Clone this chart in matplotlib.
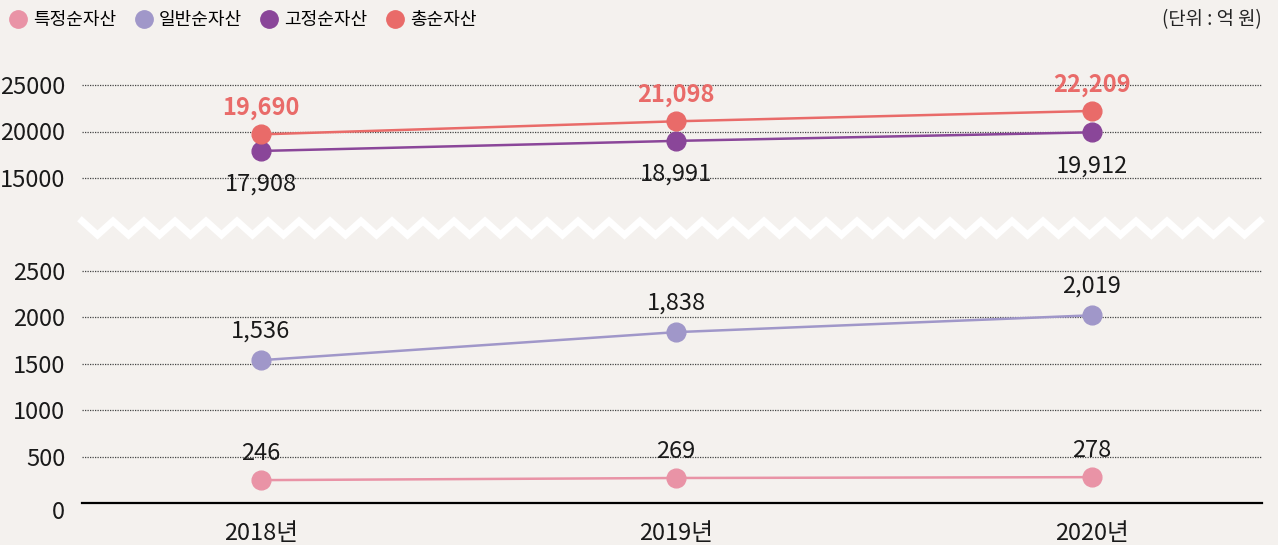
import matplotlib
matplotlib.use('Agg')
import matplotlib.pyplot as plt
import matplotlib.transforms as mtransforms
from matplotlib.lines import Line2D

plt.rcParams['font.family'] = ['Liberation Sans Narrow', 'Noto Sans CJK KR', 'DejaVu Sans']

BG = '#f4f1ee'
C_SPEC = '#e993a6'
C_GEN = '#a097c9'
C_FIX = '#8a4699'
C_TOT = '#e96b69'

years = ['2018년', '2019년', '2020년']
specific = [246, 269, 278]        # 특정순자산
general = [1536, 1838, 2019]      # 일반순자산
fixed = [17908, 18991, 19912]     # 고정순자산
total = [19690, 21098, 22209]     # 총순자산
names = ['특정순자산', '일반순자산', '고정순자산', '총순자산']

W, H = 1278, 545
fig = plt.figure(figsize=(W / 100, H / 100), dpi=100)
fig.patch.set_facecolor(BG)


def px_axes(left, top, right, bottom):
    return fig.add_axes([left / W, 1 - bottom / H, (right - left) / W, (bottom - top) / H])


ax_top = px_axes(82, 75.7, 1262, 196.6)
ax_bot = px_axes(82, 252, 1262, 503)

x = list(range(len(years)))
for ax in (ax_top, ax_bot):
    ax.set_facecolor(BG)
    ax.set_xlim(-0.43, 2.41)
    for s in ax.spines.values():
        s.set_visible(False)
    ax.tick_params(axis='both', length=0, labelsize=17, pad=12, labelcolor='#1a1a1a')
    ax.grid(axis='y', linestyle=(0, (1, 1)), color='#444444', linewidth=0.9)
    ax.set_axisbelow(True)

ax_top.set_ylim(13000, 26000)
ax_top.set_yticks([15000, 20000, 25000])
ax_top.set_xticks([])

ax_bot.set_ylim(0, 2700)
ax_bot.set_yticks([0, 500, 1000, 1500, 2000, 2500])
ax_bot.set_xticks(x)
ax_bot.set_xticklabels(years)
ax_bot.tick_params(axis='x', pad=14)
ax_bot.spines['bottom'].set_visible(True)
ax_bot.spines['bottom'].set_color('black')
ax_bot.spines['bottom'].set_linewidth(1.6)
ax_bot.yaxis.get_gridlines()[0].set_visible(False)
# nudge the "0" label a little below the baseline
zero_lbl = ax_bot.get_yticklabels()[0]
zero_lbl.set_transform(zero_lbl.get_transform() +
                       mtransforms.ScaledTranslation(0, -7 / 100, fig.dpi_scale_trans))

kw = dict(marker='o', markersize=13.5, linewidth=1.8, clip_on=False)
ax_top.plot(x, fixed, color=C_FIX, **kw)
ax_top.plot(x, total, color=C_TOT, **kw)
ax_bot.plot(x, general, color=C_GEN, **kw)
ax_bot.plot(x, specific, color=C_SPEC, **kw)

for xi, v in zip(x, total):
    ax_top.annotate(f'{v:,}', (xi, v), xytext=(0, 19), textcoords='offset points',
                    ha='center', va='center', fontsize=17, fontweight='bold', color=C_TOT)
for xi, v in zip(x, fixed):
    ax_top.annotate(f'{v:,}', (xi, v), xytext=(0, -24), textcoords='offset points',
                    ha='center', va='center', fontsize=17, color='#1a1a1a')
for xi, v in zip(x, general):
    ax_bot.annotate(f'{v:,}', (xi, v), xytext=(0, 21), textcoords='offset points',
                    ha='center', va='center', fontsize=17, color='#1a1a1a')
for xi, v in zip(x, specific):
    ax_bot.annotate(f'{v:,}', (xi, v), xytext=(0, 19), textcoords='offset points',
                    ha='center', va='center', fontsize=17, color='#1a1a1a')

# zigzag break mark
zx, zy = [], []
px = 82
i = 0
while px <= 1264:
    zx.append(px / W)
    zy.append(1 - (221 if i % 2 == 0 else 235) / H)
    px += 15.5
    i += 1
fig.add_artist(Line2D(zx, zy, color='white', linewidth=5, transform=fig.transFigure,
                      solid_joinstyle='miter'))

# legend
handles = [Line2D([], [], marker='o', linestyle='none', markersize=12.5, color=c)
           for c in (C_SPEC, C_GEN, C_FIX, C_TOT)]
fig.legend(handles, names, loc='center left', bbox_to_anchor=(0.0, 1 - 20 / H), ncol=4,
           frameon=False, handletextpad=0.25, columnspacing=0.9, handlelength=1.2,
           borderaxespad=0, prop={'family': 'Noto Sans CJK KR', 'size': 13})

fig.text(1262 / W, 1 - 20 / H, '(단위 : 억 원)', ha='right', va='center',
         fontsize=13.5, family='Noto Sans CJK KR', color='#222222')

fig.savefig('out.png', dpi=100, facecolor=BG)
